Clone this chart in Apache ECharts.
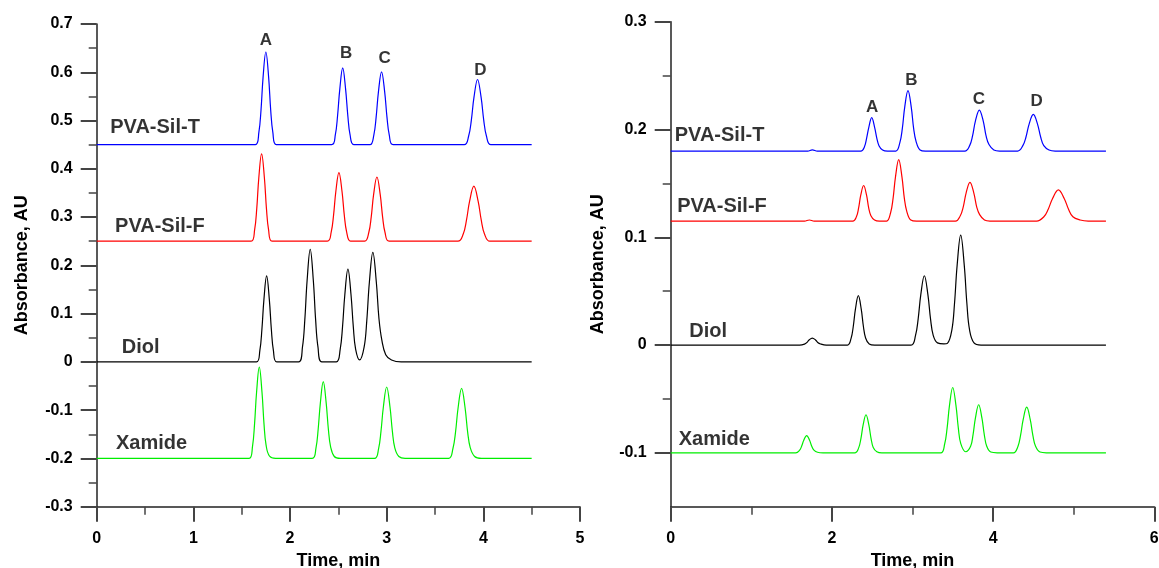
<!DOCTYPE html>
<html><head><meta charset="utf-8">
<script src="https://cdn.jsdelivr.net/npm/echarts@6/dist/echarts.min.js"></script>
<style>html,body{margin:0;padding:0;background:#fff}#c{width:1159px;height:568px}</style>
</head><body><div id="c"></div><script>
// ---------- data (time in min, absorbance in AU) ----------
const leftPvaSilT = [
[0,0.45],[1.642,0.45],[1.678,0.476],[1.700,0.522],[1.721,0.589],[1.750,0.642],[1.779,0.589],[1.800,0.522],[1.822,0.476],[1.858,0.45],
[2.431,0.45],[2.469,0.471],[2.492,0.510],[2.515,0.565],[2.545,0.609],[2.575,0.565],[2.598,0.510],[2.621,0.471],[2.659,0.45],
[2.827,0.45],[2.867,0.470],[2.891,0.507],[2.915,0.560],[2.947,0.601],[2.979,0.560],[3.003,0.507],[3.027,0.470],[3.067,0.45],
[3.802,0.45],[3.848,0.468],[3.876,0.501],[3.903,0.548],[3.940,0.585],[3.977,0.548],[4.004,0.501],[4.032,0.468],[4.078,0.45],
[4.5,0.45]];
const leftPvaSilF = [
[0,0.25],[1.598,0.25],[1.634,0.274],[1.656,0.318],[1.677,0.381],[1.706,0.431],[1.735,0.381],[1.756,0.318],[1.778,0.274],[1.814,0.25],
[2.386,0.25],[2.426,0.269],[2.450,0.303],[2.474,0.353],[2.506,0.392],[2.538,0.353],[2.562,0.303],[2.586,0.269],[2.626,0.25],
[2.773,0.25],[2.815,0.268],[2.840,0.300],[2.865,0.347],[2.899,0.383],[2.933,0.347],[2.958,0.300],[2.983,0.268],[3.025,0.25],
[3.737,0.25],[3.792,0.265],[3.825,0.293],[3.858,0.333],[3.902,0.364],[3.946,0.333],[3.979,0.293],[4.012,0.265],[4.067,0.25],
[4.5,0.25]];
const leftDiol = [
[0,0],[1.653,0],[1.688,0.024],[1.709,0.067],[1.730,0.129],[1.758,0.178],[1.786,0.129],[1.807,0.067],[1.828,0.024],[1.863,0],
[2.089,0],[2.129,0.031],[2.153,0.087],[2.177,0.169],[2.209,0.233],[2.241,0.169],[2.265,0.087],[2.289,0.031],[2.329,0],
[2.479,0],[2.519,0.026],[2.543,0.072],[2.567,0.139],[2.599,0.192],[2.631,0.139],[2.655,0.072],[2.679,0.026],[2.720,0.004],
[2.767,0.031],[2.794,0.085],[2.821,0.165],[2.857,0.227],[2.893,0.165],[2.920,0.090],[2.950,0.045],[2.990,0.015],[3.050,0.004],[3.150,0],
[4.5,0]];
const leftXamide = [
[0,-0.2],[1.577,-0.2],[1.612,-0.175],[1.633,-0.129],[1.654,-0.063],[1.682,-0.011],[1.710,-0.063],[1.731,-0.129],[1.752,-0.172],[1.787,-0.195],[1.850,-0.2],
[2.230,-0.2],[2.268,-0.179],[2.291,-0.140],[2.314,-0.085],[2.344,-0.041],[2.374,-0.085],[2.397,-0.140],[2.420,-0.176],[2.458,-0.196],[2.520,-0.2],
[2.874,-0.2],[2.916,-0.180],[2.941,-0.144],[2.966,-0.093],[3.000,-0.052],[3.034,-0.093],[3.059,-0.144],[3.084,-0.178],[3.126,-0.196],[3.190,-0.2],
[3.640,-0.2],[3.685,-0.180],[3.712,-0.146],[3.739,-0.095],[3.775,-0.055],[3.811,-0.095],[3.838,-0.146],[3.865,-0.178],[3.910,-0.196],[3.980,-0.2],
[4.5,-0.2]];

const rightPvaSilT = [
[0,0.18],[1.70,0.18],[1.757,0.181],[1.82,0.18],
[2.359,0.18],[2.404,0.184],[2.431,0.192],[2.458,0.202],[2.494,0.211],[2.530,0.202],[2.557,0.192],[2.584,0.185],[2.629,0.181],[2.69,0.18],
[2.794,0.18],[2.844,0.188],[2.874,0.201],[2.904,0.221],[2.944,0.236],[2.984,0.221],[3.014,0.201],[3.044,0.189],[3.094,0.181],[3.16,0.18],
[3.649,0.18],[3.709,0.185],[3.745,0.194],[3.781,0.208],[3.829,0.218],[3.877,0.208],[3.913,0.194],[3.949,0.186],[4.009,0.181],[4.08,0.18],
[4.304,0.18],[4.369,0.185],[4.408,0.193],[4.447,0.205],[4.499,0.214],[4.551,0.205],[4.590,0.193],[4.629,0.185],[4.694,0.181],[4.77,0.18],
[5.4,0.18]];
const rightPvaSilF = [
[0,0.115],[1.66,0.115],[1.72,0.116],[1.78,0.115],
[2.259,0.115],[2.304,0.119],[2.331,0.127],[2.358,0.139],[2.394,0.148],[2.430,0.139],[2.457,0.127],[2.484,0.120],[2.529,0.116],[2.59,0.115],
[2.679,0.115],[2.729,0.123],[2.759,0.136],[2.789,0.156],[2.829,0.172],[2.869,0.156],[2.899,0.136],[2.929,0.124],[2.979,0.116],[3.05,0.115],
[3.533,0.115],[3.593,0.120],[3.629,0.128],[3.665,0.141],[3.713,0.151],[3.761,0.141],[3.797,0.128],[3.833,0.121],[3.893,0.116],[3.96,0.115],
[4.54,0.115],[4.63,0.119],[4.684,0.126],[4.738,0.136],[4.81,0.144],[4.882,0.136],[4.936,0.126],[4.99,0.119],[5.08,0.116],[5.18,0.115],
[5.4,0.115]];
const rightDiol = [
[0,0],[1.60,0],[1.66,0.0009],[1.69,0.0024],[1.717,0.0047],[1.757,0.0065],[1.797,0.0047],[1.824,0.0024],[1.86,0.001],[1.93,0],
[2.193,0],[2.238,0.0062],[2.265,0.0172],[2.292,0.0333],[2.328,0.0458],[2.364,0.0333],[2.391,0.0172],[2.418,0.0065],[2.463,0.001],[2.53,0],
[2.982,0],[3.037,0.0087],[3.070,0.0241],[3.103,0.0467],[3.147,0.0643],[3.191,0.0467],[3.224,0.0241],[3.257,0.009],[3.31,0.002],[3.39,0.001],
[3.433,0.0015],[3.488,0.0138],[3.521,0.0383],[3.554,0.0741],[3.598,0.102],[3.642,0.0741],[3.675,0.0383],[3.708,0.014],[3.763,0.002],[3.85,0],
[5.4,0]];
const rightXamide = [
[0,-0.1],[1.552,-0.1],[1.597,-0.0978],[1.624,-0.094],[1.651,-0.0884],[1.687,-0.084],[1.723,-0.0884],[1.750,-0.094],[1.777,-0.0975],[1.822,-0.0995],[1.89,-0.1],
[2.288,-0.1],[2.333,-0.0952],[2.360,-0.0868],[2.387,-0.0744],[2.423,-0.0647],[2.459,-0.0744],[2.486,-0.0868],[2.513,-0.095],[2.558,-0.099],[2.62,-0.1],
[3.349,-0.1],[3.399,-0.0918],[3.429,-0.0773],[3.459,-0.056],[3.499,-0.0394],[3.539,-0.056],[3.569,-0.0773],[3.599,-0.0915],[3.66,-0.099],
[3.721,-0.094],[3.751,-0.0833],[3.781,-0.0676],[3.821,-0.0554],[3.861,-0.0676],[3.891,-0.0833],[3.921,-0.0939],[3.971,-0.0993],[4.05,-0.1],
[4.252,-0.1],[4.307,-0.0943],[4.340,-0.0841],[4.373,-0.0693],[4.417,-0.0577],[4.461,-0.0693],[4.494,-0.0841],[4.527,-0.094],[4.582,-0.0993],[4.66,-0.1],
[5.4,-0.1]];

const traceNames = ['PVA-Sil-T','PVA-Sil-F','Diol','Xamide'];
const traceColors = ['#0000ff','#ff0000','#000000','#00ee00'];
const leftTraceLabelX = [0.14, 0.19, 0.26, 0.20];
const leftTraceLabelY = [0.485, 0.28, 0.029, -0.17];
const rightTraceLabelX = [0.05, 0.08, 0.23, 0.10];
const rightTraceLabelY = [0.194, 0.129, 0.0126, -0.088];
const peakLetters = ['A','B','C','D'];
const leftPeakLabelX = [1.75, 2.58, 2.98, 3.97];
const leftPeakLabelY = [0.667, 0.639, 0.628, 0.605];
const rightPeakLabelX = [2.50, 2.985, 3.825, 4.54];
const rightPeakLabelY = [0.221, 0.246, 0.228, 0.226];
const rightYMajorTicks = [-0.1, 0, 0.1, 0.2, 0.3];
const rightYMinorTicks = [-0.05, 0.05, 0.15, 0.25];

// ---------- chart ----------
const FONT = 'Arial, "Liberation Sans", Helvetica, sans-serif';
const axisLineStyle = {color:'#222', width:1.5};
const tickStyle = {color:'#444', width:2};
const minorStyle = {color:'#444', width:1.5};
const labelStyle = {fontFamily:FONT, fontWeight:'bold', fontSize:16, color:'#000'};
const nameStyle = {fontFamily:FONT, fontWeight:'bold', fontSize:18, color:'#000'};

function xAxisCfg(gi, max, interval){
  return {gridIndex:gi, type:'value', min:0, max:max, interval:interval,
    splitLine:{show:false},
    axisLine:{onZero:false, lineStyle:axisLineStyle},
    axisTick:{length:15, lineStyle:tickStyle},
    minorTick:{show:true, splitNumber:2, length:8, lineStyle:minorStyle},
    axisLabel:Object.assign({margin:24}, labelStyle),
    name:'Time, min', nameLocation:'middle', nameGap:42, nameTextStyle:nameStyle};
}

function lineSeries(data, color, xi, yi){
  return {type:'line', data:data, xAxisIndex:xi, yAxisIndex:yi, showSymbol:false, symbol:'none',
    smooth:0.4, lineStyle:{color:color, width:1.2}, itemStyle:{color:color}, silent:true, z:3};
}
function labelSeries(names, xs, ys, xi, yi, size, align){
  return {type:'scatter', xAxisIndex:xi, yAxisIndex:yi, symbolSize:0, silent:true, z:5,
    data:names.map((n,i)=>({name:n, value:[xs[i], ys[i]]})),
    label:{show:true, position:[0,0], align:align, verticalAlign:'middle', formatter:p=>p.name,
      fontFamily:FONT, fontWeight:'bold', fontSize:size, color:'#000'}};
}

const chart = echarts.init(document.getElementById('c'), null, {renderer:'canvas'});
chart.setOption({
  animation:false,
  backgroundColor:'#fff',
  grid:[
    {left:96.7, top:24, width:483.3, height:482.7, containLabel:false, outerBoundsMode:'none'},
    {left:670.7, top:21.7, width:483.6, height:485, containLabel:false, outerBoundsMode:'none'}
  ],
  xAxis:[ xAxisCfg(0, 5, 1), xAxisCfg(1, 6, 2) ],
  yAxis:[
    {gridIndex:0, type:'value', min:-0.3, max:0.7, interval:0.1, position:'left',
      splitLine:{show:false},
      axisLine:{show:true, onZero:false, lineStyle:axisLineStyle},
      axisTick:{show:true, length:16, lineStyle:tickStyle},
      minorTick:{show:true, splitNumber:2, length:8, lineStyle:minorStyle},
      axisLabel:Object.assign({margin:24}, labelStyle),
      name:'Absorbance, AU', nameLocation:'middle', nameGap:66, nameTextStyle:nameStyle},
    {gridIndex:1, type:'value', min:-0.15, max:0.3, position:'left', offset:0,
      splitLine:{show:false},
      axisLine:{show:true, onZero:false, lineStyle:axisLineStyle},
      axisTick:{show:true, length:16, lineStyle:tickStyle, customValues:rightYMajorTicks},
      axisLabel:Object.assign({margin:24, customValues:rightYMajorTicks}, labelStyle),
      name:'Absorbance, AU', nameLocation:'middle', nameGap:64, nameTextStyle:nameStyle},
    {gridIndex:1, type:'value', min:-0.15, max:0.3, position:'left', offset:0,
      splitLine:{show:false},
      axisLine:{show:false, onZero:false},
      axisTick:{show:true, length:8, lineStyle:minorStyle, customValues:rightYMinorTicks},
      axisLabel:{show:false}}
  ],
  series:[
    lineSeries(leftPvaSilT, traceColors[0], 0, 0),
    lineSeries(leftPvaSilF, traceColors[1], 0, 0),
    lineSeries(leftDiol, traceColors[2], 0, 0),
    lineSeries(leftXamide, traceColors[3], 0, 0),
    lineSeries(rightPvaSilT, traceColors[0], 1, 1),
    lineSeries(rightPvaSilF, traceColors[1], 1, 1),
    lineSeries(rightDiol, traceColors[2], 1, 1),
    lineSeries(rightXamide, traceColors[3], 1, 1),
    labelSeries(traceNames, leftTraceLabelX, leftTraceLabelY, 0, 0, 20, 'left'),
    labelSeries(traceNames, rightTraceLabelX, rightTraceLabelY, 1, 1, 20, 'left'),
    labelSeries(peakLetters, leftPeakLabelX, leftPeakLabelY, 0, 0, 17, 'center'),
    labelSeries(peakLetters, rightPeakLabelX, rightPeakLabelY, 1, 1, 17, 'center')
  ]
});
</script></body></html>
